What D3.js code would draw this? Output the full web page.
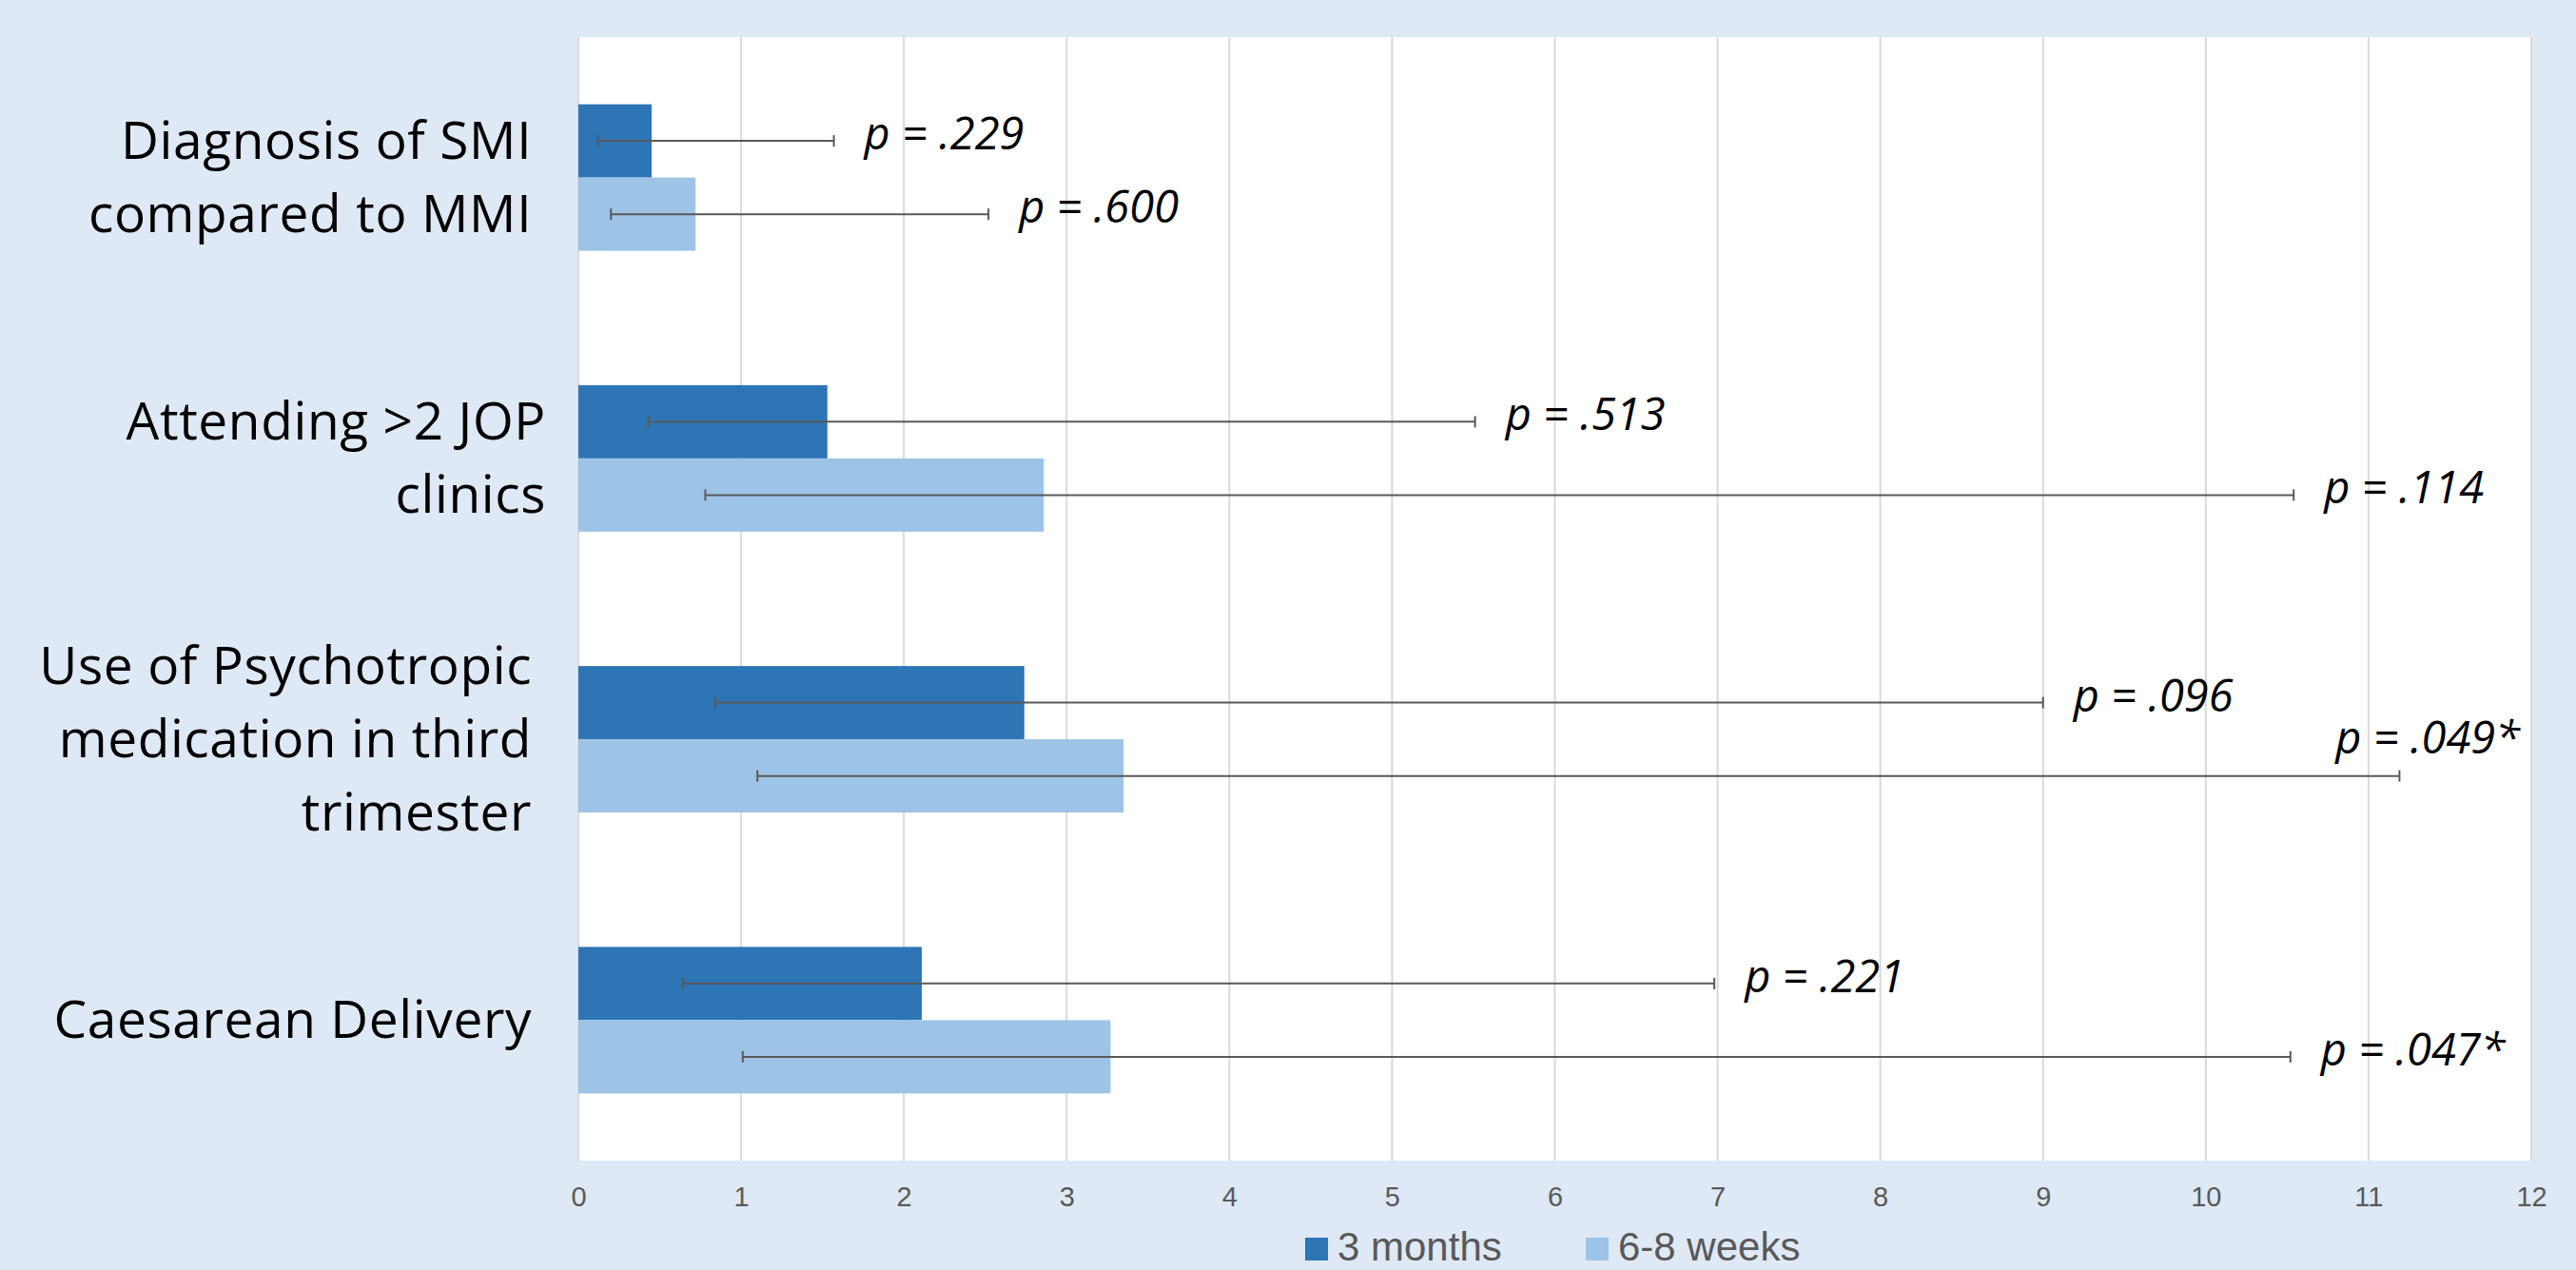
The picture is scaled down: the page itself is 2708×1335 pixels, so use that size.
<!DOCTYPE html>
<html>
<head>
<meta charset="utf-8">
<script src="https://cdn.jsdelivr.net/npm/d3@7"></script>
<style>
  html, body { margin: 0; padding: 0; background: #DEE9F5; }
  svg { display: block; }
  text { white-space: pre; }
</style>
</head>
<body>
<svg id="chart" width="2708" height="1335"></svg>
<script>
// Odds ratios (with 95% CI) for predictors, two follow-up points
const categories = [
  ["Diagnosis of SMI ", "compared to MMI "],
  ["Attending >2 JOP", "clinics"],
  ["Use of Psychotropic ", "medication in third ", "trimester "],
  ["Caesarean Delivery "]
];
const seriesNames = ["3 months", "6-8 weeks"];

const months3 = [0.45, 1.53, 2.74, 2.11];
const months3Low = [0.12, 0.43, 0.84, 0.64];
const months3High = [1.57, 5.51, 9.00, 6.98];
const months3P = ["p = .229", "p = .513", "p = .096", "p = .221"];

const weeks68 = [0.72, 2.86, 3.35, 3.27];
const weeks68Low = [0.20, 0.78, 1.10, 1.01];
const weeks68High = [2.52, 10.54, 11.19, 10.52];
const weeks68P = ["p = .600", "p = .114", "p = .049*", "p = .047*"];

const xTicks = [0, 1, 2, 3, 4, 5, 6, 7, 8, 9, 10, 11, 12];

const colors = ["#2E75B6", "#9DC3E6"];

// ---- layout ----
const plot = { left: 608, right: 2661, top: 39, bottom: 1220 };

const svg = d3.select("#chart");

const x = d3.scaleLinear().domain([0, 12]).range([plot.left, plot.right]);
const y0 = d3.scaleBand().domain(d3.range(categories.length))
  .range([plot.top, plot.bottom]).padding(0);
const y1 = d3.scaleBand().domain(d3.range(seriesNames.length))
  .range([0, y0.bandwidth()]).paddingInner(0).paddingOuter(0.917);

// plot area
svg.append("rect")
  .attr("x", plot.left).attr("y", plot.top)
  .attr("width", plot.right - plot.left).attr("height", plot.bottom - plot.top)
  .attr("fill", "#FFFFFF");

// vertical gridlines
svg.append("g").selectAll("line").data(xTicks).join("line")
  .attr("x1", d => x(d)).attr("x2", d => x(d))
  .attr("y1", plot.top).attr("y2", plot.bottom)
  .attr("stroke", "#D9D9D9").attr("stroke-width", 2);

// x axis tick labels
const xAxis = d3.axisBottom(x).tickValues(xTicks).tickSize(0).tickPadding(0)
  .tickFormat(d3.format("d"));
const gx = svg.append("g").attr("transform", `translate(0,${plot.bottom})`).call(xAxis);
gx.select(".domain").remove();
gx.selectAll("text")
  .attr("y", 48).attr("dy", null)
  .attr("font-family", "'Liberation Sans', Arial, sans-serif")
  .attr("font-size", 29)
  .attr("fill", "#595959");

// build series rows
const series = [
  { vals: months3, lo: months3Low, hi: months3High, p: months3P },
  { vals: weeks68, lo: weeks68Low, hi: weeks68High, p: weeks68P }
];
const rows = [];
categories.forEach((c, i) => {
  series.forEach((s, j) => {
    rows.push({ cat: i, s: j, v: s.vals[i], lo: s.lo[i], hi: s.hi[i], p: s.p[i] });
  });
});
const barY = d => y0(d.cat) + y1(d.s);
const midY = d => barY(d) + y1.bandwidth() / 2;

// bars
svg.append("g").selectAll("rect").data(rows).join("rect")
  .attr("x", x(0))
  .attr("y", barY)
  .attr("width", d => x(d.v) - x(0))
  .attr("height", y1.bandwidth())
  .attr("fill", d => colors[d.s]);

// error bars
const eb = svg.append("g").attr("stroke", "#595959").attr("stroke-width", 2);
eb.selectAll("line.span").data(rows).join("line").attr("class", "span")
  .attr("x1", d => x(d.lo)).attr("x2", d => x(d.hi))
  .attr("y1", midY).attr("y2", midY);
eb.selectAll("line.capL").data(rows).join("line").attr("class", "capL")
  .attr("x1", d => x(d.lo)).attr("x2", d => x(d.lo))
  .attr("y1", d => midY(d) - 6).attr("y2", d => midY(d) + 6);
eb.selectAll("line.capR").data(rows).join("line").attr("class", "capR")
  .attr("x1", d => x(d.hi)).attr("x2", d => x(d.hi))
  .attr("y1", d => midY(d) - 6).attr("y2", d => midY(d) + 6);

// p-value labels beside each whisker; moved above it when it would leave the plot
const pl = svg.append("g").selectAll("text").data(rows).join("text")
  .attr("font-family", "'Open Sans', sans-serif")
  .attr("font-style", "italic")
  .attr("font-size", 47)
  .attr("fill", "#000")
  .text(d => d.p);
pl.each(function (d) {
  const w = this.getComputedTextLength();
  const t = d3.select(this);
  let lx = x(d.hi) + 32;
  let ly = midY(d) + 9;
  if (lx + w > plot.right - 8) {
    lx = plot.right - 12 - w;
    ly = midY(d) - 24;
  }
  t.attr("x", lx).attr("y", ly);
});

// category labels, right-aligned left of the plot
const lineH = 77;
const catG = svg.append("g")
  .attr("font-family", "'Open Sans', sans-serif")
  .attr("font-size", 55)
  .attr("letter-spacing", 0.6)
  .attr("fill", "#000")
  .attr("text-anchor", "end");
categories.forEach((lines, i) => {
  const cy = y0(i) + y0.bandwidth() / 2;
  lines.forEach((ln, k) => {
    catG.append("text")
      .attr("x", 574)
      .attr("y", cy + 19 + (k - (lines.length - 1) / 2) * lineH)
      .text(ln);
  });
});

// legend
const leg = svg.append("g");
const legX = [1372, 1667];
seriesNames.forEach((n, i) => {
  leg.append("rect").attr("x", legX[i]).attr("y", 1301)
    .attr("width", 24).attr("height", 24).attr("fill", colors[i]);
  leg.append("text").attr("x", legX[i] + 34).attr("y", 1325)
    .attr("font-family", "'Liberation Sans', Arial, sans-serif")
    .attr("font-size", 42).attr("fill", "#595959")
    .text(n);
});
</script>
</body>
</html>
